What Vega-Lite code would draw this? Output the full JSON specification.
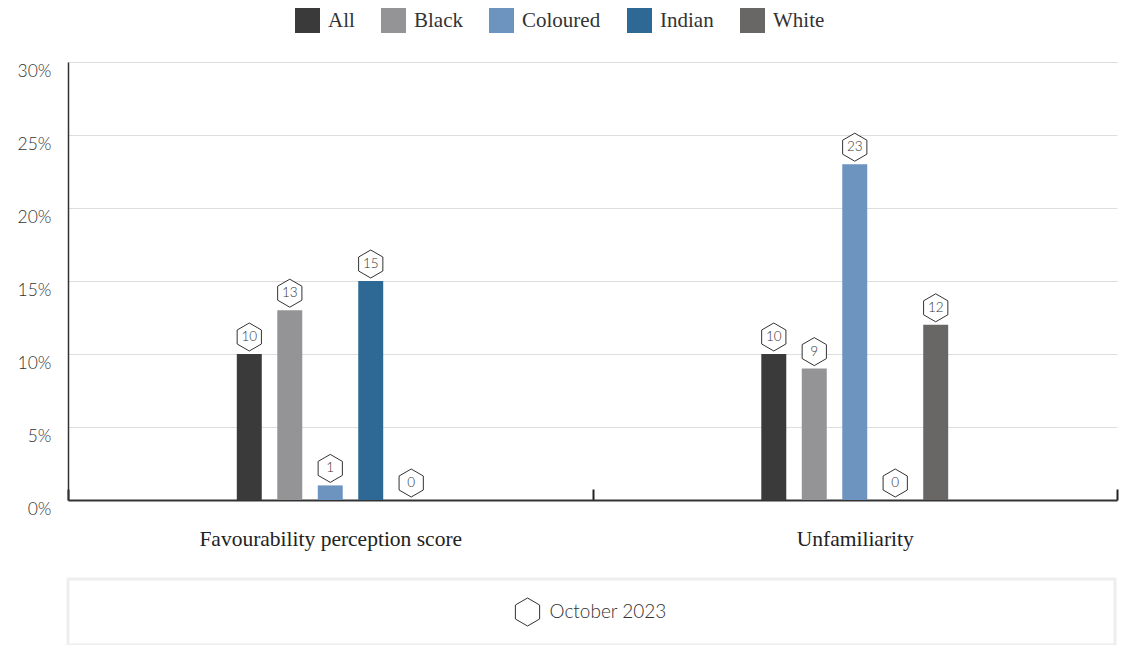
{
  "$schema": "https://vega.github.io/schema/vega-lite/v6.json",
  "padding": {"top": 8, "left": 17, "right": 5, "bottom": 0},
  "background": "white",
  "spacing": 27,
  "config": {
    "view": {"stroke": null},
    "font": "Lato"
  },
  "vconcat": [
    {
      "width": 1049,
      "height": 438,
      "data": {
        "values": [
          {"metric": "Favourability perception score", "group": "All", "value": 10},
          {"metric": "Favourability perception score", "group": "Black", "value": 13},
          {"metric": "Favourability perception score", "group": "Coloured", "value": 1},
          {"metric": "Favourability perception score", "group": "Indian", "value": 15},
          {"metric": "Favourability perception score", "group": "White", "value": 0},
          {"metric": "Unfamiliarity", "group": "All", "value": 10},
          {"metric": "Unfamiliarity", "group": "Black", "value": 9},
          {"metric": "Unfamiliarity", "group": "Coloured", "value": 23},
          {"metric": "Unfamiliarity", "group": "Indian", "value": 0},
          {"metric": "Unfamiliarity", "group": "White", "value": 12}
        ]
      },
      "encoding": {
        "x": {
          "field": "metric", "type": "nominal",
          "sort": ["Favourability perception score", "Unfamiliarity"],
          "scale": {"paddingInner": 0, "paddingOuter": 0},
          "axis": {
            "title": null, "labelAngle": 0, "labelLimit": 0,
            "labelFont": "Liberation Serif", "labelFontSize": 21.5, "labelColor": "#222",
            "labelPadding": 39,
            "domainColor": "#333", "domainWidth": 2,
            "tickBand": "extent", "tickSize": -11, "tickColor": "#222", "tickWidth": 2,
            "grid": false
          }
        },
        "xOffset": {
          "field": "group", "type": "nominal",
          "scale": {
            "domain": ["_p1", "_p2", "_p3", "_p4", "All", "Black", "Coloured", "Indian", "White", "_q1", "_q2", "_q3", "_q4"],
            "paddingInner": 0.383, "paddingOuter": 0.17
          }
        },
        "y": {
          "field": "value", "type": "quantitative",
          "scale": {"domain": [0, 30]},
          "axis": {
            "title": null, "values": [0, 5, 10, 15, 20, 25, 30],
            "labelExpr": "datum.value + '%'",
            "labelFont": "Lato", "labelFontSize": 17.5, "labelColor": "#333", "labelFontWeight": 300,
            "labelBaseline": "top", "labelPadding": 17,
            "ticks": false, "domainColor": "#333", "domainWidth": 1.5,
            "grid": true, "gridColor": "#dddddd", "gridWidth": 1
          }
        }
      },
      "layer": [
        {
          "mark": {"type": "bar"},
          "encoding": {
            "color": {
              "field": "group", "type": "nominal",
              "sort": ["All", "Black", "Coloured", "Indian", "White"],
              "scale": {
                "domain": ["All", "Black", "Coloured", "Indian", "White"],
                "range": ["#3a3a3a", "#949396", "#6d94bf", "#2e6894", "#686766"]
              },
              "legend": {
                "title": null, "orient": "none", "legendX": 227, "legendY": -54,
                "direction": "horizontal", "symbolType": "square", "symbolSize": 625,
                "symbolStrokeWidth": 0, "symbolOpacity": 1,
                "labelFont": "Liberation Serif", "labelFontSize": 21, "labelColor": "#333",
                "labelOffset": 8, "columnPadding": 26, "padding": 0
              }
            }
          }
        },
        {
          "mark": {
            "type": "point", "filled": true, "fill": "white", "stroke": "#333",
            "strokeWidth": 1, "opacity": 1, "size": 784, "yOffset": -17,
            "shape": "M0,-1L0.866,-0.5L0.866,0.5L0,1L-0.866,0.5L-0.866,-0.5Z"
          }
        },
        {
          "mark": {
            "type": "text", "yOffset": -17, "baseline": "middle", "align": "center",
            "font": "Lato", "fontSize": 13.5, "fontWeight": 300, "color": "#333"
          },
          "encoding": {"text": {"field": "value", "type": "quantitative"}}
        }
      ]
    },
    {
      "width": 1047,
      "height": 66,
      "view": {"stroke": "#eeeeee", "strokeWidth": 3},
      "data": {"values": [{"period": "October 2023"}]},
      "layer": [
        {
          "mark": {
            "type": "point", "filled": true, "fill": "white", "stroke": "#333",
            "strokeWidth": 1, "opacity": 1, "size": 784, "xOffset": -64,
            "shape": "M0,-1L0.866,-0.5L0.866,0.5L0,1L-0.866,0.5L-0.866,-0.5Z"
          },
          "encoding": {}
        },
        {
          "mark": {
            "type": "text", "align": "left", "baseline": "middle", "dx": -42,
            "font": "Lato", "fontSize": 19, "fontWeight": 300, "color": "#333"
          },
          "encoding": {"text": {"field": "period", "type": "nominal"}}
        }
      ]
    }
  ]
}
